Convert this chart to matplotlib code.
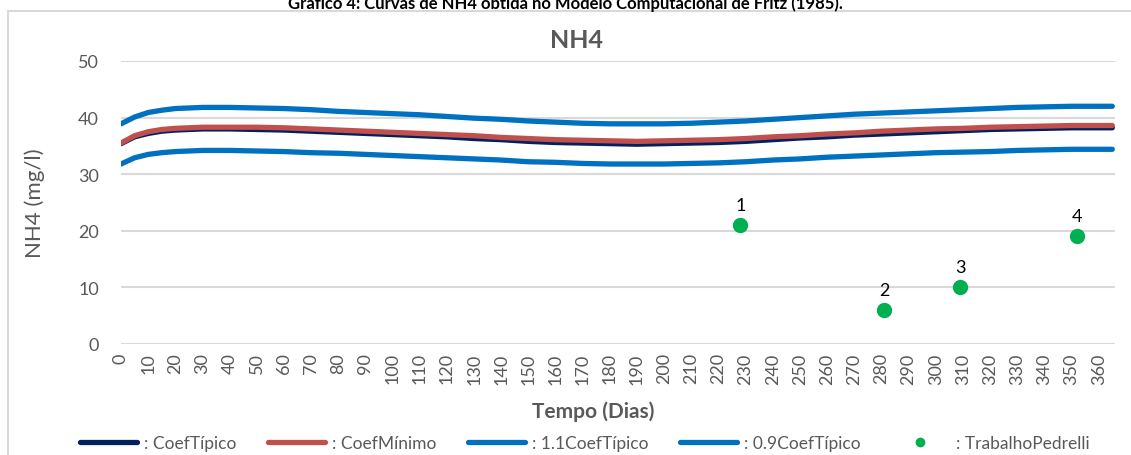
import matplotlib.pyplot as plt
from matplotlib.patches import Rectangle

plt.rcParams['font.family'] = ['Lato', 'DejaVu Sans']

# dias (eixo x)
dias = [0, 5, 10, 15, 20, 30, 40, 50, 60, 70, 80, 90, 100, 110, 120, 130, 140, 150, 160, 170, 180,
        190, 200, 210, 220, 230, 240, 250, 260, 270, 280, 290, 300, 310, 320, 330, 340, 350, 360, 365]

# curvas do modelo (mg/l)
coef_tipico = [35.4, 36.6, 37.2, 37.6, 37.8, 38.0, 38.0, 37.9, 37.8, 37.6, 37.4, 37.2, 37.0, 36.8, 36.6,
               36.3, 36.1, 35.8, 35.6, 35.5, 35.4, 35.3, 35.4, 35.5, 35.6, 35.8, 36.1, 36.4,
               36.6, 36.9, 37.1, 37.3, 37.5, 37.7, 37.9, 38.0, 38.1, 38.2, 38.2, 38.2]
coef_minimo = [35.5, 36.8, 37.5, 37.9, 38.1, 38.3, 38.3, 38.3, 38.2, 38.0, 37.8, 37.6, 37.4, 37.2, 37.0,
               36.8, 36.5, 36.3, 36.1, 36.0, 35.9, 35.8, 35.9, 36.0, 36.1, 36.3, 36.6, 36.8,
               37.1, 37.3, 37.6, 37.8, 38.0, 38.1, 38.3, 38.4, 38.5, 38.6, 38.6, 38.6]
coef_11 = [38.9, 40.1, 40.9, 41.3, 41.6, 41.8, 41.8, 41.7, 41.6, 41.4, 41.1, 40.9, 40.7, 40.5, 40.2,
           39.9, 39.7, 39.4, 39.2, 39.0, 38.9, 38.9, 38.9, 39.0, 39.2, 39.4, 39.7, 40.0,
           40.3, 40.6, 40.8, 41.0, 41.2, 41.4, 41.6, 41.8, 41.9, 42.0, 42.0, 42.0]
coef_09 = [31.8, 32.9, 33.5, 33.8, 34.0, 34.2, 34.2, 34.1, 34.0, 33.8, 33.7, 33.5, 33.3, 33.1, 32.9,
           32.7, 32.5, 32.2, 32.1, 31.9, 31.8, 31.8, 31.8, 31.9, 32.0, 32.2, 32.5, 32.7,
           33.0, 33.2, 33.4, 33.6, 33.8, 33.9, 34.0, 34.2, 34.3, 34.4, 34.4, 34.4]

# pontos do trabalho de Pedrelli
ped_dias = [228, 281, 309, 352]
ped_nh4 = [21, 6, 10, 19]
ped_rotulos = ['1', '2', '3', '4']

cinza = '#595959'

fig = plt.figure(figsize=(11.31, 4.56), dpi=100)
fig.patches.append(Rectangle((8 / 1131, -0.1), 1.2, 1 - 12 / 456 + 0.1, transform=fig.transFigure,
                             facecolor='none', edgecolor='#D9D9D9', lw=1.5))

ax = fig.add_axes([121 / 1131, 1 - 345 / 456, (1115 - 121) / 1131, (345 - 62) / 456])

l1, = ax.plot(dias, coef_tipico, color='#002060', lw=3.8, solid_capstyle='round', zorder=3)
l2, = ax.plot(dias, coef_minimo, color='#C0504D', lw=3.8, solid_capstyle='round', zorder=3)
l3, = ax.plot(dias, coef_11, color='#0070C0', lw=3.8, solid_capstyle='round', zorder=3)
l4, = ax.plot(dias, coef_09, color='#0070C0', lw=3.8, solid_capstyle='round', zorder=3)
pts, = ax.plot(ped_dias, ped_nh4, 'o', color='#00B050', ms=10, zorder=4)

for xi, yi, r in zip(ped_dias, ped_nh4, ped_rotulos):
    ax.annotate(r, (xi, yi), textcoords='offset points', xytext=(0, 9), ha='center',
                va='bottom', fontsize=13, color='black')

ax.set_xlim(0, 366)
ax.set_ylim(0, 50)
ax.set_yticks(range(0, 51, 10))
ax.set_xticks(range(0, 361, 10))
ax.set_xticklabels([str(d) for d in range(0, 361, 10)], rotation=90)
ax.tick_params(axis='both', length=0, colors=cinza, labelsize=13)
ax.tick_params(axis='x', pad=6)
ax.tick_params(axis='y', pad=16)
ax.grid(axis='y', color='#D9D9D9', lw=1.5)
ax.set_axisbelow(True)
for s in ax.spines.values():
    s.set_visible(False)

ax.set_ylabel('NH4 (mg/l)', fontsize=16, color=cinza, labelpad=24)

# titulo e eixo x centrados na area do grafico
fig.text(576 / 1131, 1 - 40 / 456, 'NH4', ha='center', va='center', fontsize=18,
         fontweight='bold', color=cinza)
fig.text(593 / 1131, 1 - 412 / 456, 'Tempo (Dias)', ha='center', va='center', fontsize=15,
         fontweight='bold', color=cinza)

fig.text(0.5, 1 - 4 / 456, 'Gráfico 4: Curvas de NH4 obtida no Modelo Computacional de Fritz (1985).',
         ha='center', va='center', fontsize=12, fontweight='bold', color='black')

leg = fig.legend([l1, l2, l3, l4, pts],
                 [': CoefTípico', ': CoefMínimo', ': 1.1CoefTípico', ': 0.9CoefTípico', ': TrabalhoPedrelli'],
                 loc='lower center', bbox_to_anchor=(0.517, -0.025), ncol=5, frameon=False,
                 fontsize=12.5, handlelength=3.3, columnspacing=1.8, handletextpad=0.4,
                 markerscale=0.6)
for t in leg.get_texts():
    t.set_color(cinza)

fig.savefig('out.png', dpi=100)
